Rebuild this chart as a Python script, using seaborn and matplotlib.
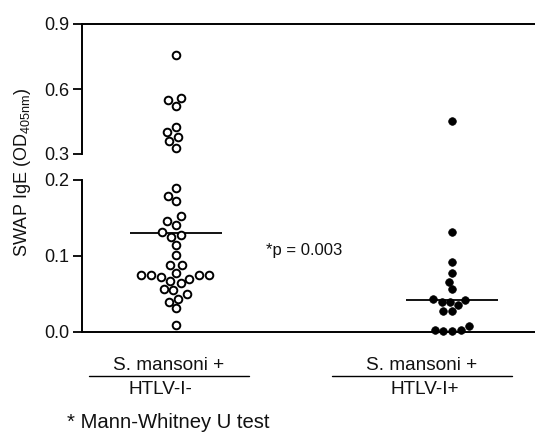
import numpy as np
import pandas as pd
import matplotlib
matplotlib.use("Agg")
import matplotlib.pyplot as plt
import seaborn as sns
from matplotlib.lines import Line2D

# ---- data ----
groups = ["HTLV-I-", "HTLV-I+"]
htlv_neg = [0.757, 0.560, 0.548, 0.522, 0.425, 0.403, 0.380, 0.360, 0.326,
            0.190, 0.179, 0.172, 0.152, 0.146, 0.141, 0.131, 0.128, 0.125,
            0.114, 0.101, 0.088, 0.088, 0.078, 0.075, 0.075, 0.070, 0.072,
            0.075, 0.075, 0.064, 0.067, 0.055, 0.057, 0.050, 0.044, 0.040,
            0.031, 0.009]
htlv_pos = [0.452, 0.131, 0.092, 0.078, 0.066, 0.056, 0.043, 0.042, 0.040,
            0.040, 0.035, 0.027, 0.027, 0.008, 0.003, 0.001, 0.001, 0.003]
medians = [0.130, 0.042]
top_ticks = [0.3, 0.6, 0.9]
bottom_ticks = [0.0, 0.1, 0.2]
group_line1 = "S. mansoni +"
group_line2 = ["HTLV-I-", "HTLV-I+"]
p_text = "*p = 0.003"
footnote = "* Mann-Whitney U test"
ylabel = r"SWAP IgE (OD$_{\mathregular{405nm}}$)"

df = pd.DataFrame({
    "group": [groups[0]] * len(htlv_neg) + [groups[1]] * len(htlv_pos),
    "value": htlv_neg + htlv_pos,
})

sns.set_style("ticks")
plt.rcParams["font.family"] = ["Liberation Sans", "DejaVu Sans"]
plt.rcParams["mathtext.fontset"] = "custom"
plt.rcParams["mathtext.rm"] = "Liberation Sans"

W, H = 535, 433
fig = plt.figure(figsize=(W / 100, H / 100), dpi=100)

def fx(px):
    return px / W

def fy(py):
    return 1 - py / H

left = 82
ax_top = fig.add_axes([fx(left), fy(154), 1 - fx(left), (154 - 24) / H])
ax_bot = fig.add_axes([fx(left), fy(332), 1 - fx(left), (332 - 180) / H])

ax_top.set_ylim(0.3, 0.9)
ax_bot.set_ylim(0.0, 0.2)

styles = {groups[0]: dict(color="white", edgecolor="black", linewidth=1.4),
          groups[1]: dict(color="black", edgecolor="black", linewidth=0.5)}

for ax, lo, hi in [(ax_top, 0.25, 1.0), (ax_bot, -0.01, 0.21)]:
    for g in groups:
        sub = df[(df["group"] == g) & (df["value"] >= lo) & (df["value"] <= hi)]
        sns.swarmplot(data=sub, x="group", y="value", order=groups, ax=ax,
                      size=5.5, clip_on=False, zorder=3, **styles[g])
    ax.set_xlim(-0.34, 1.30)
    ax.set_xlabel("")
    ax.set_ylabel("")
    ax.set_xticks([])

xs = np.arange(len(groups))
ax_bot.hlines(medians, xs - 0.167, xs + 0.167, color="black", lw=1.3, zorder=2)

for ax, ticks in [(ax_top, top_ticks), (ax_bot, bottom_ticks)]:
    ax.set_yticks(ticks)
    ax.set_yticklabels([f"{t:.1f}" for t in ticks])
    ax.tick_params(axis="y", length=6.5, width=1.3, labelsize=13, pad=2.5,
                   color="black", labelcolor="#111111")
    for s in ax.spines.values():
        s.set_linewidth(1.4)
        s.set_color("black")
    ax.spines["right"].set_visible(False)

ax_top.spines["bottom"].set_visible(False)
ax_bot.spines["top"].set_visible(False)

fig.text(fx(23), fy(172), ylabel, rotation=90, ha="center", va="center",
         fontsize=13, color="#111111")

fig.text(fx(266), fy(250), p_text, ha="left", va="center", fontsize=12,
         color="#111111")

label_centers = [(169, 160), (422, 425)]
line_spans = [(89, 249), (332, 512)]
for (c1, c2), (l0, l1), l2 in zip(label_centers, line_spans, group_line2):
    fig.text(fx(c1), fy(365), group_line1, ha="center", va="center",
             fontsize=13.7, color="#111111")
    fig.add_artist(Line2D([fx(l0), fx(l1)], [fy(376), fy(376)],
                          color="black", lw=1.0))
    fig.text(fx(c2), fy(390), l2, ha="center", va="center",
             fontsize=13.7, color="#111111")

fig.text(fx(67), fy(423), footnote, ha="left", va="center", fontsize=14.6,
         color="#111111")

fig.savefig("out.png", dpi=100)
